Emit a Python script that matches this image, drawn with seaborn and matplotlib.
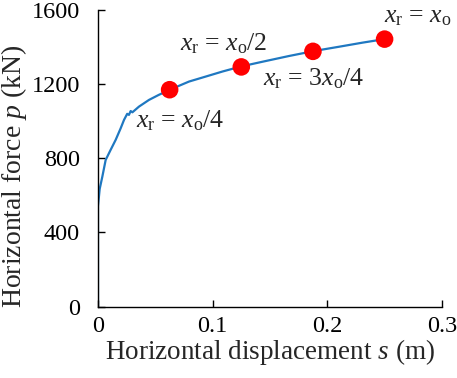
import pandas as pd
import matplotlib
matplotlib.use("Agg")
import matplotlib.pyplot as plt
import seaborn as sns

# curve (displacement in m, force in kN)
disp = [0.0, 0.0, 0.0, 0.0015, 0.0038, 0.0067, 0.011, 0.0154, 0.0198, 0.0227, 0.0255,
        0.027, 0.0285, 0.030, 0.0358, 0.0445, 0.053, 0.0634, 0.0794, 0.094, 0.1085,
        0.1245, 0.1435, 0.1667, 0.1886, 0.2104, 0.2308, 0.251]
force = [0, 300, 542, 635, 701, 791, 845, 899, 962, 1007, 1040, 1034, 1055, 1048,
         1079, 1115, 1142, 1172, 1214, 1241, 1268, 1295, 1321, 1352, 1379,
         1402, 1424, 1444]

# marked points x_r = x_o/4, x_o/2, 3x_o/4, x_o
mark_s = [0.0625, 0.125, 0.1875, 0.25]
mark_p = [1170, 1293, 1377, 1443]
mark_labels = [r"$x_\mathrm{r}$ = $x_\mathrm{o}/4$", r"$x_\mathrm{r}$ = $x_\mathrm{o}/2$",
               r"$x_\mathrm{r}$ = 3$x_\mathrm{o}/4$", r"$x_\mathrm{r}$ = $x_\mathrm{o}$"]
label_x = [0.0717, 0.110, 0.188, 0.279]
label_y = [1001, 1418, 1229, 1565]

sns.set_style("ticks")
plt.rcParams["font.family"] = ["Liberation Serif", "DejaVu Serif"]
plt.rcParams["mathtext.fontset"] = "custom"
plt.rcParams["mathtext.rm"] = "Liberation Serif"
plt.rcParams["mathtext.it"] = "Liberation Serif:italic"

df = pd.DataFrame({"s": disp, "p": force})
pts = pd.DataFrame({"s": mark_s, "p": mark_p})

fig = plt.figure(figsize=(4.57, 3.78), dpi=100)
ax = fig.add_axes([0.2144, 0.189, 0.7526, 0.7845])
sns.lineplot(data=df, x="s", y="p", ax=ax, color="#1f78c1", linewidth=1.6,
             sort=False, estimator=None)
sns.scatterplot(data=pts, x="s", y="p", ax=ax, color="#ff0000", s=160,
                edgecolor="none", zorder=3)

for tx, ty, lab in zip(label_x, label_y, mark_labels):
    ax.text(tx, ty, lab, ha="center", va="center", fontsize=18.5)

ax.set_xlim(0, 0.3)
ax.set_ylim(0, 1600)
ax.set_xticks([0, 0.1, 0.2, 0.3])
ax.set_xticklabels(["0", "0.1", "0.2", "0.3"])
ax.set_yticks([0, 400, 800, 1200, 1600])
ax.tick_params(direction="in", length=5, width=1, labelsize=17.5, colors="black")
ax.tick_params(axis="x", pad=7)
ax.tick_params(axis="y", pad=13)
ax.set_xlabel(r"Horizontal displacement $s$ (m)", fontsize=19.5, labelpad=0)
ax.set_ylabel(r"Horizontal force $p$ (kN)", fontsize=20)
ax.yaxis.set_label_coords(-0.2, 0.44)
sns.despine(ax=ax)
for sp in ["left", "bottom"]:
    ax.spines[sp].set_color("black")
    ax.spines[sp].set_linewidth(1)

fig.savefig("out.png", dpi=100)
